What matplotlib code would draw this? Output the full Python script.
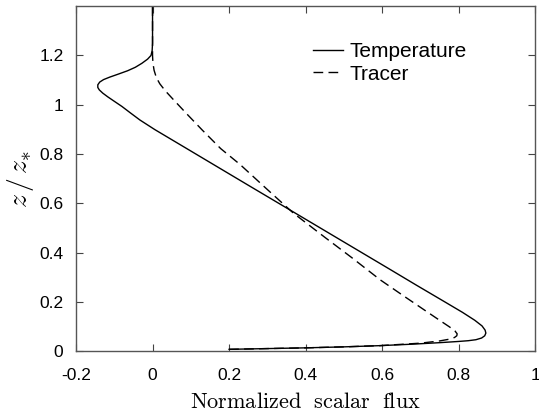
import matplotlib
matplotlib.use("Agg")
import matplotlib.pyplot as plt

plt.rcParams['font.family'] = ['Liberation Sans', 'DejaVu Sans']
plt.rcParams['mathtext.fontset'] = 'cm'

# normalized flux profiles (flux, z/z*)
temp_flux = [0.0, 0.0, -0.001, -0.004, -0.013, -0.028, -0.045, -0.065, -0.090,
             -0.112, -0.128, -0.138, -0.143, -0.143, -0.139, -0.130, -0.117,
             -0.100, -0.080, -0.058, -0.033, 0.006, 0.085, 0.179, 0.259, 0.373,
             0.49, 0.62, 0.69, 0.76, 0.81, 0.842, 0.861, 0.869, 0.871, 0.868,
             0.860, 0.845, 0.825, 0.80, 0.75, 0.68, 0.595, 0.5, 0.4, 0.3, 0.2]
temp_z = [1.40, 1.25, 1.22, 1.20, 1.185, 1.168, 1.152, 1.138, 1.124,
          1.112, 1.102, 1.092, 1.081, 1.070, 1.060, 1.047, 1.032,
          1.014, 0.993, 0.967, 0.938, 0.899, 0.826, 0.739, 0.665, 0.56,
          0.452, 0.332, 0.267, 0.203, 0.157, 0.125, 0.102, 0.085, 0.073, 0.062,
          0.053, 0.046, 0.042, 0.039, 0.034, 0.028, 0.022, 0.017, 0.013, 0.010, 0.007]

tracer_flux = [0.0, 0.0, 0.001, 0.004, 0.010, 0.019, 0.033, 0.055, 0.09, 0.13,
               0.178, 0.229, 0.297, 0.368, 0.45, 0.52, 0.595, 0.655, 0.71, 0.75,
               0.776, 0.79, 0.796, 0.795, 0.789, 0.775, 0.75, 0.70, 0.595, 0.5,
               0.4, 0.3, 0.2]
tracer_z = [1.40, 1.20, 1.17, 1.14, 1.11, 1.085, 1.057, 1.02, 0.962, 0.897,
            0.822, 0.757, 0.66, 0.56, 0.462, 0.38, 0.289, 0.225, 0.167, 0.125,
            0.098, 0.082, 0.07, 0.062, 0.055, 0.048, 0.041, 0.032, 0.022, 0.017,
            0.013, 0.010, 0.007]

xticks = [-0.2, 0, 0.2, 0.4, 0.6, 0.8, 1]
xticklabels = ['-0.2', '0', '0.2', '0.4', '0.6', '0.8', '1']
yticks = [0, 0.2, 0.4, 0.6, 0.8, 1, 1.2]
yticklabels = ['0', '0.2', '0.4', '0.6', '0.8', '1', '1.2']

fig = plt.figure(figsize=(5.39, 4.13), dpi=100)
ax = fig.add_axes([0.141, 0.150, 0.852, 0.835])

ax.plot(temp_flux, temp_z, color='black', lw=1.0, label='Temperature')
ax.plot(tracer_flux, tracer_z, color='black', lw=1.0, ls=(0, (7, 3.8)),
        label='Tracer')

ax.set_xlim(-0.2, 1)
ax.set_ylim(0, 1.4)
ax.set_xticks(xticks)
ax.set_xticklabels(xticklabels)
ax.set_yticks(yticks)
ax.set_yticklabels(yticklabels)
ax.tick_params(direction='in', top=True, right=True, labelsize=12.5,
               length=5, width=0.8, color='#444444')
ax.tick_params(axis='x', pad=12)
ax.tick_params(axis='y', pad=9)
for s in ax.spines.values():
    s.set_color('#555555')
    s.set_linewidth(1.0)

ax.set_xlabel(r'$\mathrm{Normalized\ \ scalar\ \ flux}$', fontsize=16, labelpad=7)
ax.set_ylabel(r'$z\,/\,z_{*}$', fontsize=20, labelpad=2)

ax.legend(loc='upper left', bbox_to_anchor=(0.516, 0.895), frameon=False,
          fontsize=15, handlelength=1.45, handletextpad=0.3, labelspacing=0.15,
          borderpad=0, borderaxespad=0)

fig.savefig('out.png', dpi=100)
